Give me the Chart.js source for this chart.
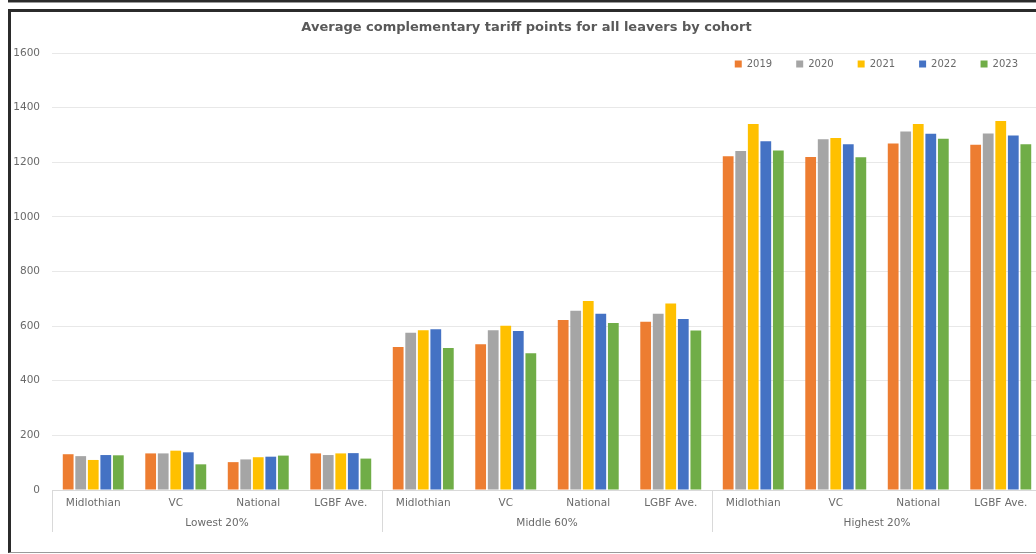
<!DOCTYPE html>
<html>
<head>
<meta charset="utf-8">
<script src="https://cdn.jsdelivr.net/npm/chart.js@4/dist/chart.umd.min.js"></script>
<style>
  html, body { margin: 0; padding: 0; background: #fff; overflow: hidden; width: 1036px; height: 554px; }
  #topbox { position: absolute; left: 8px; top: -20px; width: 1100px; height: 20px;
            border-left: 2px solid #2b2b2b; border-bottom: 2px solid #2b2b2b; box-shadow: 0 1px 0 #9a9a9a; }
  #panel { position: absolute; left: 8px; top: 9px; width: 1100px; height: 540px;
           border-left: 3px solid #2b2b2b; border-top: 3px solid #2b2b2b; border-bottom: 1px solid #9a9a9a; }
  #wrap { position: absolute; left: 0px; top: 0px; width: 1040px; height: 538px; }
</style>
</head>
<body>
<div id="topbox"></div>
<div id="panel"><div id="wrap"><canvas id="c"></canvas></div></div>
<script>
// Cohort bands and the comparator areas shown within each band
const groups = ['Lowest 20%', 'Middle 60%', 'Highest 20%'];
const areas = ['Midlothian', 'VC', 'National', 'LGBF Ave.'];
const years = ['2019', '2020', '2021', '2022', '2023'];

// Average complementary tariff points, in order: band by band, area by area
const points2019 = [131, 134, 102, 134, 524, 534, 622, 616, 1222, 1219, 1269, 1264];
const points2020 = [124, 134, 112, 128, 576, 585, 656, 645, 1241, 1284, 1313, 1305];
const points2021 = [110, 144, 120, 134, 585, 601, 692, 683, 1340, 1289, 1340, 1351];
const points2022 = [128, 138, 122, 135, 589, 582, 645, 626, 1277, 1266, 1304, 1298];
const points2023 = [127,  94, 126, 115, 520, 501, 611, 584, 1243, 1218, 1286, 1266];

const yTicks = [0, 200, 400, 600, 800, 1000, 1200, 1400, 1600];

const seriesValues = [points2019, points2020, points2021, points2022, points2023];
const seriesColors = ['#ED7D31', '#A5A5A5', '#FFC000', '#4472C4', '#70AD47'];

const categoryLabels = [];
groups.forEach(() => areas.forEach(a => categoryLabels.push(a)));

const textColor = '#6a6a6a';
const fontFamily = '"DejaVu Sans", "Open Sans", sans-serif';

// Vertical separators between cohort bands, below the axis line
const bandSeparators = {
  id: 'bandSeparators',
  afterDraw(chart) {
    const x = chart.scales.x;
    const ctx = chart.ctx;
    const half = (x.getPixelForValue(1) - x.getPixelForValue(0)) / 2;
    const top = chart.chartArea.bottom;
    const bottom = top + 42;
    ctx.save();
    ctx.strokeStyle = '#d9d9d9';
    ctx.lineWidth = 1;
    for (let g = 0; g <= groups.length; g++) {
      const idx = g * areas.length;
      const px = Math.round(x.getPixelForValue(Math.min(idx, categoryLabels.length - 1)) +
                 (idx >= categoryLabels.length ? half : -half)) + 0.5;
      ctx.beginPath();
      ctx.moveTo(px, top);
      ctx.lineTo(px, bottom);
      ctx.stroke();
    }
    ctx.restore();
  }
};

// Legend floats over the top of the plot instead of taking layout space
const overlayLegend = {
  id: 'overlayLegend',
  beforeLayout(chart) {
    const lg = chart.legend;
    if (lg && !lg.__overlay) {
      const fit = lg.fit.bind(lg);
      lg.fit = function () { fit(); this.__h = this.height; this.height = 0; };
      lg.__overlay = true;
    }
  },
  afterLayout(chart) {
    const lg = chart.legend;
    if (!lg) return;
    lg.height = lg.__h;
    lg.top = chart.chartArea.top + 12 - lg.options.labels.padding - 6;
    lg.bottom = lg.top + lg.height;
  }
};

new Chart(document.getElementById('c'), {
  type: 'bar',
  data: {
    labels: categoryLabels,
    datasets: years.map((y, i) => ({
      label: y,
      data: seriesValues[i],
      backgroundColor: seriesColors[i],
      borderWidth: 0,
      categoryPercentage: 0.76,
      barPercentage: 0.86
    }))
  },
  options: {
    responsive: true,
    maintainAspectRatio: false,
    animation: false,
    layout: { padding: { left: 0, right: 9, top: 0, bottom: 18 } },
    plugins: {
      title: {
        display: true,
        text: 'Average complementary tariff points for all leavers by cohort',
        color: '#595959',
        font: { family: fontFamily, size: 13, weight: 'bold' },
        padding: { top: 7.5, bottom: 17.9 }
      },
      legend: {
        position: 'top',
        align: 'end',
        labels: {
          boxWidth: 7,
          boxHeight: 7,
          color: textColor,
          padding: 24,
          font: { family: fontFamily, size: 10 }
        }
      },
      tooltip: { enabled: false }
    },
    scales: {
      x: {
        type: 'category',
        weight: 0,
        grid: { display: false, drawTicks: false },
        border: { display: true, color: '#d9d9d9' },
        ticks: { color: textColor, font: { family: fontFamily, size: 10.5 }, padding: 7, maxRotation: 0, autoSkip: false },
        afterFit: s => { s.height = 22; }
      },
      x2: {
        type: 'category',
        labels: groups,
        position: 'bottom',
        weight: 1,
        offset: true,
        grid: { display: false, drawTicks: false },
        border: { display: false },
        ticks: { color: textColor, font: { family: fontFamily, size: 10.5 }, padding: 5, maxRotation: 0 },
        afterFit: s => { s.height = 20; }
      },
      y: {
        min: 0,
        max: 1600,
        afterBuildTicks: s => { s.ticks = yTicks.map(v => ({ value: v })); },
        grid: { color: '#e8e8e8', drawTicks: false },
        border: { display: false },
        ticks: { color: textColor, font: { family: fontFamily, size: 10.5 }, padding: 12, callback: v => String(v) },
        afterFit: s => { s.width = 41; }
      }
    }
  },
  plugins: [bandSeparators, overlayLegend]
});
</script>
</body>
</html>
